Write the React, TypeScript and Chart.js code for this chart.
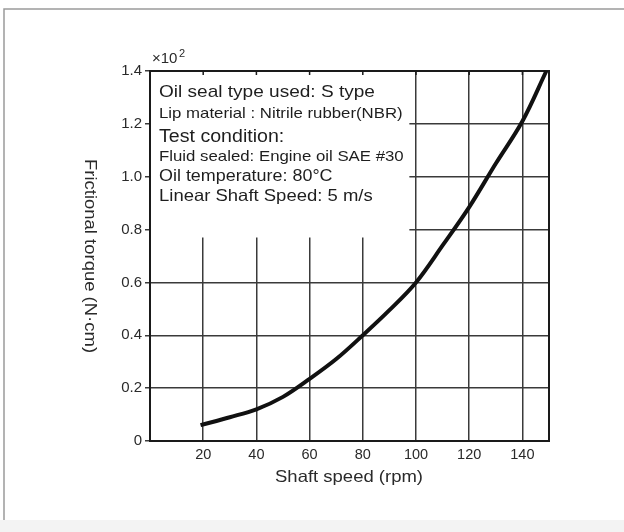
import React, { useEffect, useRef } from "react";
import { Chart, registerables } from "chart.js";

Chart.register(...registerables);

const speeds = [19, 30, 40, 50, 60, 70, 80, 90, 100, 110, 120, 130, 140, 149];
const torque = [0.06, 0.09, 0.12, 0.167, 0.235, 0.31, 0.4, 0.495, 0.6, 0.74, 0.885, 1.05, 1.21, 1.4];
const xTicks = [20, 40, 60, 80, 100, 120, 140];
const yTicks = [0, 0.2, 0.4, 0.6, 0.8, 1.0, 1.2, 1.4];
const infoLines: [string, number][] = [
  ["Oil seal type used: S type", 17],
  ["Lip material : Nitrile rubber(NBR)", 15],
  ["Test condition:", 17.5],
  ["Fluid sealed: Engine oil SAE #30", 15],
  ["Oil temperature: 80°C", 16],
  ["Linear Shaft Speed: 5 m/s", 16.5],
];
const yTitle = "Frictional torque (N·cm)";
const xTitle = "Shaft speed (rpm)";
const FONT = "'Liberation Sans', Arial, Helvetica, sans-serif";

function wideText(ctx: any, text: string, x: number, y: number, size: number, k = 1.12) {
  ctx.save();
  ctx.translate(x, y);
  ctx.scale(k, 1);
  ctx.font = `${size}px ${FONT}`;
  ctx.fillText(text, 0, 0);
  ctx.restore();
}

export default function App() {
  const ref = useRef<HTMLCanvasElement | null>(null);
  useEffect(() => {
    if (!ref.current) return;
    const decor = {
      id: "decor",
      beforeDraw(chart: any) {
        const ctx = chart.ctx;
        ctx.save();
        ctx.fillStyle = "#ffffff";
        ctx.fillRect(0, 0, chart.width, chart.height);
        ctx.fillStyle = "#f3f3f3";
        ctx.fillRect(0, 520, chart.width, chart.height - 520);
        ctx.strokeStyle = "#9a9a9a";
        ctx.lineWidth = 1.5;
        ctx.beginPath();
        ctx.moveTo(4, 520);
        ctx.lineTo(4, 9);
        ctx.lineTo(chart.width, 9);
        ctx.stroke();
        ctx.restore();
      },
      beforeDatasetsDraw(chart: any) {
        const ctx = chart.ctx;
        const xs = chart.scales.x;
        const ys = chart.scales.y;
        const a = chart.chartArea;
        ctx.save();
        // white info box covering the grid
        const bx1 = xs.getPixelForValue(97.5);
        const by2 = ys.getPixelForValue(0.77);
        ctx.fillStyle = "#ffffff";
        ctx.fillRect(a.left, a.top, bx1 - a.left, by2 - a.top);
        // frame
        ctx.strokeStyle = "#1a1a1a";
        ctx.lineWidth = 2;
        ctx.strokeRect(a.left, a.top, a.right - a.left, a.bottom - a.top);
        // top tick marks
        ctx.lineWidth = 1.5;
        ctx.beginPath();
        for (const v of xTicks) {
          const px = xs.getPixelForValue(v);
          ctx.moveTo(px, a.top);
          ctx.lineTo(px, a.top + 4);
        }
        ctx.stroke();
        // info text
        ctx.fillStyle = "#1e1e1e";
        ctx.textBaseline = "middle";
        ctx.textAlign = "left";
        const lineY = [92, 114, 137, 157, 177, 196];
        infoLines.forEach(([t, s], i) => {
          wideText(ctx, t, a.left + 9, lineY[i], s);
        });
        // x10^2
        ctx.fillStyle = "#2a2a2a";
        ctx.font = `15px ${FONT}`;
        ctx.fillText("×10", a.left + 2, a.top - 12);
        ctx.font = `11px ${FONT}`;
        ctx.fillText("2", a.left + 29, a.top - 17);
        // y title rotated clockwise
        ctx.save();
        ctx.translate(90, 256);
        ctx.rotate(Math.PI / 2);
        ctx.textAlign = "center";
        ctx.fillStyle = "#2a2a2a";
        wideText(ctx, yTitle, 0, 0, 16.5);
        ctx.restore();
        // x title
        ctx.textAlign = "center";
        ctx.fillStyle = "#2a2a2a";
        wideText(ctx, xTitle, 349, 477, 16.5);
        ctx.restore();
      },
    };
    const chart = new Chart(ref.current, {
      type: "line",
      data: {
        datasets: [
          {
            data: speeds.map((s, i) => ({ x: s, y: torque[i] })),
            borderColor: "#111111",
            borderWidth: 4,
            pointRadius: 0,
            tension: 0.35,
            fill: false,
            clip: false as any,
          },
        ],
      },
      options: {
        animation: false,
        responsive: false,
        events: [],
        layout: { padding: { top: 71, right: 75, left: 0, bottom: 0 } },
        plugins: { legend: { display: false }, tooltip: { enabled: false } },
        scales: {
          x: {
            type: "linear",
            min: 0,
            max: 150,
            afterBuildTicks: (s: any) => {
              s.ticks = xTicks.map((v) => ({ value: v }));
            },
            afterFit: (s: any) => {
              s.height = 91;
            },
            border: { display: false },
            grid: { color: "#3a3a3a", lineWidth: 1.5, drawTicks: false },
            ticks: {
              font: { family: FONT, size: 14.5 },
              color: "#2a2a2a",
              padding: 5,
              maxRotation: 0,
              autoSkip: false,
            },
          },
          y: {
            type: "linear",
            min: 0,
            max: 1.4,
            afterBuildTicks: (s: any) => {
              s.ticks = yTicks.map((v) => ({ value: v }));
            },
            afterFit: (s: any) => {
              s.width = 150;
            },
            border: { display: false },
            grid: { color: "#3a3a3a", lineWidth: 1.5, tickLength: 5 },
            ticks: {
              font: { family: FONT, size: 15 },
              color: "#2a2a2a",
              padding: 3,
              autoSkip: false,
              callback: (v: any) => (Number(v) === 0 ? "0" : Number(v).toFixed(1)),
            },
          },
        },
      },
      plugins: [decor],
    } as any);
    return () => chart.destroy();
  }, []);
  return (
    <div style={{ position: "fixed", left: 0, top: 0, width: 624, height: 532 }}>
      <canvas ref={ref} width={624} height={532} style={{ display: "block" }} />
    </div>
  );
}
